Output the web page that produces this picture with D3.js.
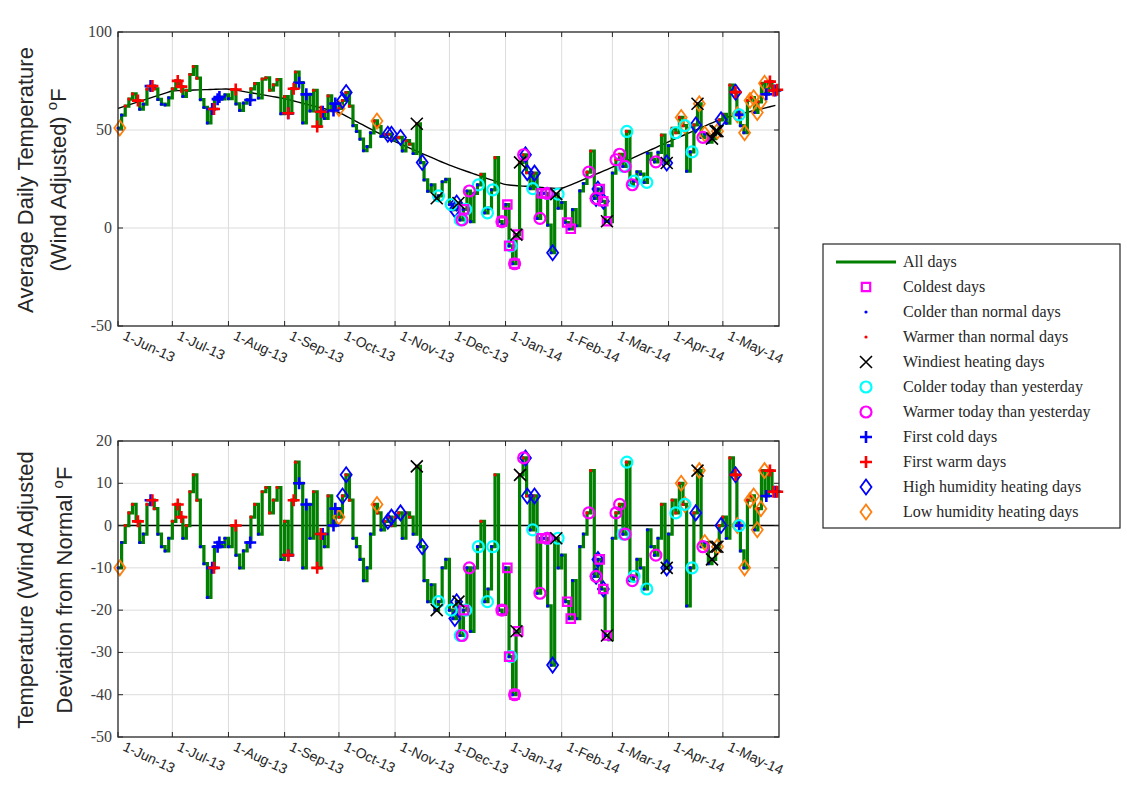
<!DOCTYPE html>
<html><head><meta charset="utf-8">
<script src="https://cdn.jsdelivr.net/npm/d3@7"></script>
<style>body{margin:0;background:#fff}</style>
</head><body>
<div id="chart"></div>
<script>
// normal temperature on the 1st of each month, Jun-13 .. Jun-14
const normalDates = ['2013-06-01','2013-07-01','2013-08-01','2013-09-01','2013-10-01','2013-11-01','2013-12-01','2014-01-01','2014-02-01','2014-03-01','2014-04-01','2014-05-01','2014-06-01']
const normalTemps = [61, 70, 71, 66, 59, 44, 32, 22, 20, 31, 44, 56, 63]

// deviation from normal, roughly every other day, by month
const devMonths = ['2013-06','2013-07','2013-08','2013-09','2013-10','2013-11','2013-12','2014-01','2014-02','2014-03','2014-04','2014-05']
const devJun = [-10,-4,0,3,5,1,-4,-2,5,6,4,-2,-5,-6,-3]
const devJul = [1,5,2,-3,0,8,12,6,-5,-9,-17,-10,-5,-4,-5,-3]
const devAug = [-5,0,-7,-10,-6,-4,2,5,-2,8,9,3,6,9,-8]
const devSep = [1,-7,6,15,10,-10,5,-3,8,-10,-2,-5,7,0,4]
const devOct = [2,7,12,6,-3,-5,-8,-13,-10,-2,5,3,-1,1,2,0]
const devNov = [2,3,-3,3,2,-2,14,-5,-13,-18,-14,-20,-18,-10,-8]
const devDec = [-20,-22,-18,-26,-20,-10,-25,-10,-5,1,-18,-15,-5,12,-20,-21]
const devJan = [-10,-31,-40,-25,12,16,7,-1,7,-16,-3,-3,-19,-33,-3,-10]
const devFeb = [-7,-18,-22,-13,-22,-5,-2,3,13,-12,-8,-15,-26,-27]
const devMar = [-3,3,5,-2,15,-13,-12,-8,-10,-15,-1,-5,-7,-3,5,-10]
const devApr = [-2,6,3,10,5,-19,-10,3,13,-5,-4,-9,-8,-5,0]
const devMay = [2,-3,16,12,0,-6,-10,6,7,-1,4,13,7,13,8,8]

// marker dates
const coldestDays = ['2013-12-09','2013-12-30','2014-01-02','2014-01-03','2014-01-06','2014-01-08','2014-01-21','2014-01-23','2014-02-04','2014-02-06','2014-02-22','2014-02-24','2014-02-26']
const windiestDays = ['2013-11-13','2013-11-24','2013-12-06','2014-01-07','2014-01-09','2014-01-29','2014-02-26','2014-03-31','2014-04-17','2014-04-25','2014-04-27','2014-04-28']
const colderThanYesterday = ['2013-11-25','2013-12-02','2013-12-07','2013-12-10','2013-12-17','2013-12-22','2013-12-25','2014-01-04','2014-01-16','2014-01-24','2014-01-30','2014-03-07','2014-03-09','2014-03-13','2014-03-20','2014-04-05','2014-04-10','2014-04-14','2014-05-10']
const warmerThanYesterday = ['2013-12-08','2013-12-12','2013-12-30','2014-01-06','2014-01-11','2014-01-20','2014-01-24','2014-02-16','2014-02-20','2014-03-03','2014-03-05','2014-03-08','2014-03-12','2014-03-25','2014-04-20']
const firstColdDays = ['2013-06-19','2013-07-23','2013-07-26','2013-07-27','2013-08-13','2013-09-03','2013-09-09','2013-09-13','2013-09-22','2013-09-28','2013-09-29','2014-05-10','2014-05-25','2014-05-30']
const firstWarmDays = ['2013-06-12','2013-06-20','2013-07-04','2013-07-06','2013-07-24','2013-08-05','2013-09-03','2013-09-06','2013-09-19','2013-09-21','2014-05-08','2014-05-27','2014-05-29','2014-05-31']
const highHumidityDays = ['2013-10-03','2013-10-05','2013-10-28','2013-10-30','2013-11-04','2013-11-16','2013-12-04','2013-12-05','2014-01-12','2014-01-13','2014-01-17','2014-01-27','2014-02-20','2014-02-21','2014-02-24','2014-03-31','2014-04-16','2014-04-30','2014-05-08']
const lowHumidityDays = ['2013-06-02','2013-10-01','2013-10-22','2014-04-08','2014-04-10','2014-04-18','2014-04-21','2014-04-28','2014-05-09','2014-05-13','2014-05-16','2014-05-18','2014-05-20','2014-05-22','2014-05-24']

const tickDates = ['2013-06-01','2013-07-01','2013-08-01','2013-09-01','2013-10-01','2013-11-01','2013-12-01','2014-01-01','2014-02-01','2014-03-01','2014-04-01','2014-05-01']

const parse = d3.utcParse('%Y-%m-%d')
const devArrays = [devJun, devJul, devAug, devSep, devOct, devNov, devDec, devJan, devFeb, devMar, devApr, devMay]
const normal = d3.scaleUtc().domain(normalDates.map(parse)).range(normalTemps).clamp(true)

const days = []
devMonths.forEach((m, mi) => {
  const start = parse(m + '-01')
  const end = d3.utcMonth.offset(start, 1)
  const n = devArrays[mi].length
  const step = (end - start) / n
  devArrays[mi].forEach((v, i) => {
    const date = new Date(+start + i * step)
    days.push({date, dev: v, temp: normal(date) + v})
  })
})
const bisect = d3.bisector(d => d.date).right
const lookup = s => {
  const t = parse(s)
  const i = Math.max(0, bisect(days, t) - 1)
  return days[i]
}

const width = 1127, height = 789
const marginLeft = 118, plotRight = 779
const top1 = 32, bot1 = 326, top2 = 441, bot2 = 737

const svg = d3.select('#chart').append('svg').attr('width', width).attr('height', height)
  .style('font-family', 'Liberation Sans, Arial, sans-serif')

const x = d3.scaleUtc().domain([parse('2013-06-01'), parse('2014-06-01')]).range([marginLeft, plotRight])
const y1 = d3.scaleLinear().domain([-50, 100]).range([bot1, top1])
const y2 = d3.scaleLinear().domain([-50, 20]).range([bot2, top2])

const symbols = {
  coldest: {fn: d3.symbolSquare, size: 70, color: '#ff00ff'},
  windiest: {fn: d3.symbolX, size: 90, color: '#000'},
  colder: {fn: d3.symbolCircle, size: 95, color: '#00ffff'},
  warmer: {fn: d3.symbolCircle, size: 95, color: '#ff00ff'},
  firstCold: {fn: d3.symbolPlus, size: 110, color: '#0000ff'},
  firstWarm: {fn: d3.symbolPlus, size: 110, color: '#ff0000'},
  high: {fn: d3.symbolDiamond, size: 75, color: '#0000ff'},
  low: {fn: d3.symbolDiamond, size: 75, color: '#ff7f0e'}
}
const markerSets = [
  ['low', lowHumidityDays], ['high', highHumidityDays], ['firstCold', firstColdDays], ['firstWarm', firstWarmDays],
  ['colder', colderThanYesterday], ['warmer', warmerThanYesterday], ['coldest', coldestDays], ['windiest', windiestDays]
]

function drawSymbol(g, key, px, py) {
  const s = symbols[key]
  if (key === 'windiest' || key === 'firstCold' || key === 'firstWarm') {
    const r = 6
    const p = key === 'windiest'
      ? `M${-r},${-r}L${r},${r}M${-r},${r}L${r},${-r}`
      : `M${-r},0L${r},0M0,${-r}L0,${r}`
    g.append('path').attr('d', p).attr('transform', `translate(${px},${py})`)
      .attr('stroke', s.color).attr('stroke-width', key === 'windiest' ? 1.6 : 2.6).attr('fill', 'none')
  } else if (key === 'high' || key === 'low') {
    const w = 5.5, h = 7.5
    g.append('path').attr('d', `M0,${-h}L${w},0L0,${h}L${-w},0Z`).attr('transform', `translate(${px},${py})`)
      .attr('stroke', s.color).attr('stroke-width', 1.8).attr('fill', 'none')
  } else {
    g.append('path').attr('d', d3.symbol(s.fn, s.size)()).attr('transform', `translate(${px},${py})`)
      .attr('stroke', s.color).attr('stroke-width', 2.2).attr('fill', 'none')
  }
}

function panel(y, top, bot, ticks, valueKey, refLine) {
  const g = svg.append('g')
  // grid
  g.selectAll('.vg').data(tickDates.slice(1)).enter().append('line')
    .attr('x1', d => x(parse(d))).attr('x2', d => x(parse(d))).attr('y1', top).attr('y2', bot)
    .attr('stroke', '#dcdcdc').attr('stroke-width', 1)
  g.selectAll('.hg').data(ticks.slice(1, -1)).enter().append('line')
    .attr('x1', marginLeft).attr('x2', plotRight).attr('y1', d => y(d)).attr('y2', d => y(d))
    .attr('stroke', '#dcdcdc').attr('stroke-width', 1)

  if (refLine === 'normal') {
    const nd = d3.utcDay.range(parse('2013-06-01'), parse('2014-06-01'), 3)
    g.append('path').datum(nd)
      .attr('d', d3.line().x(d => x(d)).y(d => y(normal(d))).curve(d3.curveBasis))
      .attr('fill', 'none').attr('stroke', '#000').attr('stroke-width', 1.4)
  } else {
    g.append('line').attr('x1', marginLeft).attr('x2', plotRight).attr('y1', y(0)).attr('y2', y(0))
      .attr('stroke', '#000').attr('stroke-width', 1.6)
  }

  g.append('path').datum(days)
    .attr('d', d3.line().x(d => x(d.date)).y(d => y(d[valueKey])).curve(d3.curveStepAfter))
    .attr('fill', 'none').attr('stroke', '#007f00').attr('stroke-width', 3.2)

  g.selectAll('.dot').data(days).enter().append('circle')
    .attr('cx', d => x(d.date)).attr('cy', d => y(d[valueKey])).attr('r', 1.6)
    .attr('fill', d => d.dev < 0 ? '#0000ff' : '#ff0000')

  markerSets.forEach(([key, list]) => {
    list.forEach(s => {
      const d = lookup(s)
      drawSymbol(g, key, x(parse(s)), y(d[valueKey]))
    })
  })

  g.append('rect').attr('x', marginLeft).attr('y', top).attr('width', plotRight - marginLeft).attr('height', bot - top)
    .attr('fill', 'none').attr('stroke', '#262626').attr('stroke-width', 1.3)
  tickDates.forEach(t => {
    const px = x(parse(t))
    g.append('line').attr('x1', px).attr('x2', px).attr('y1', bot).attr('y2', bot - 5).attr('stroke', '#262626')
    g.append('line').attr('x1', px).attr('x2', px).attr('y1', top).attr('y2', top + 5).attr('stroke', '#262626')
    g.append('text').text(d3.utcFormat('%-d-%b-%y')(parse(t)))
      .attr('transform', `translate(${px + 4},${bot + 13}) rotate(25)`)
      .attr('font-size', 14).attr('fill', '#262626')
  })
  ticks.forEach(t => {
    g.append('line').attr('x1', marginLeft).attr('x2', marginLeft + 5).attr('y1', y(t)).attr('y2', y(t)).attr('stroke', '#262626')
    g.append('line').attr('x1', plotRight).attr('x2', plotRight - 5).attr('y1', y(t)).attr('y2', y(t)).attr('stroke', '#262626')
    g.append('text').text(t).attr('x', marginLeft - 6).attr('y', y(t) + 5).attr('text-anchor', 'end')
      .attr('font-family', 'Liberation Serif, Times New Roman, serif').attr('font-size', 16).attr('fill', '#404040')
  })
}

panel(y1, top1, bot1, [-50, 0, 50, 100], 'temp', 'normal')
panel(y2, top2, bot2, [-50, -40, -30, -20, -10, 0, 10, 20], 'dev', 'zero')

function ylabel(lines, cy) {
  lines.forEach(([txt, xx]) => {
    const t = svg.append('text').attr('transform', `translate(${xx},${cy}) rotate(-90)`)
      .attr('text-anchor', 'middle').attr('font-size', 22).attr('fill', '#262626')
    t.append('tspan').text(txt)
    if (txt.endsWith(' ')) {
      t.append('tspan').text('o').attr('font-size', 15).attr('dy', -9)
      t.append('tspan').text('F').attr('dy', 9)
    }
  })
}
ylabel([['Average Daily Temperature', 33], ['(Wind Adjusted) ', 66]], 180)
ylabel([['Temperature (Wind Adjusted', 33], ['Deviation from Normal ', 72]], 590)

const legendItems = [
  ['line', 'All days'], ['coldest', 'Coldest days'], ['dotBlue', 'Colder than normal days'], ['dotRed', 'Warmer than normal days'],
  ['windiest', 'Windiest heating days'], ['colder', 'Colder today than yesterday'], ['warmer', 'Warmer today than yesterday'],
  ['firstCold', 'First cold days'], ['firstWarm', 'First warm days'], ['high', 'High humidity heating days'], ['low', 'Low humidity heating days']
]
const lg = svg.append('g')
lg.append('rect').attr('x', 823).attr('y', 244).attr('width', 297).attr('height', 284)
  .attr('fill', '#fff').attr('stroke', '#262626').attr('stroke-width', 1.2)
legendItems.forEach(([key, label], i) => {
  const cy = 262 + i * 25
  if (key === 'line') {
    lg.append('line').attr('x1', 836).attr('x2', 896).attr('y1', cy).attr('y2', cy).attr('stroke', '#007f00').attr('stroke-width', 3)
  } else if (key === 'dotBlue' || key === 'dotRed') {
    lg.append('circle').attr('cx', 866).attr('cy', cy).attr('r', 1.6).attr('fill', key === 'dotBlue' ? '#0000ff' : '#ff0000')
  } else {
    drawSymbol(lg, key, 866, cy)
  }
  lg.append('text').text(label).attr('x', 903).attr('y', cy + 5)
    .attr('font-family', 'Liberation Serif, Times New Roman, serif').attr('font-size', 16).attr('fill', '#262626')
})
</script>
</body></html>
